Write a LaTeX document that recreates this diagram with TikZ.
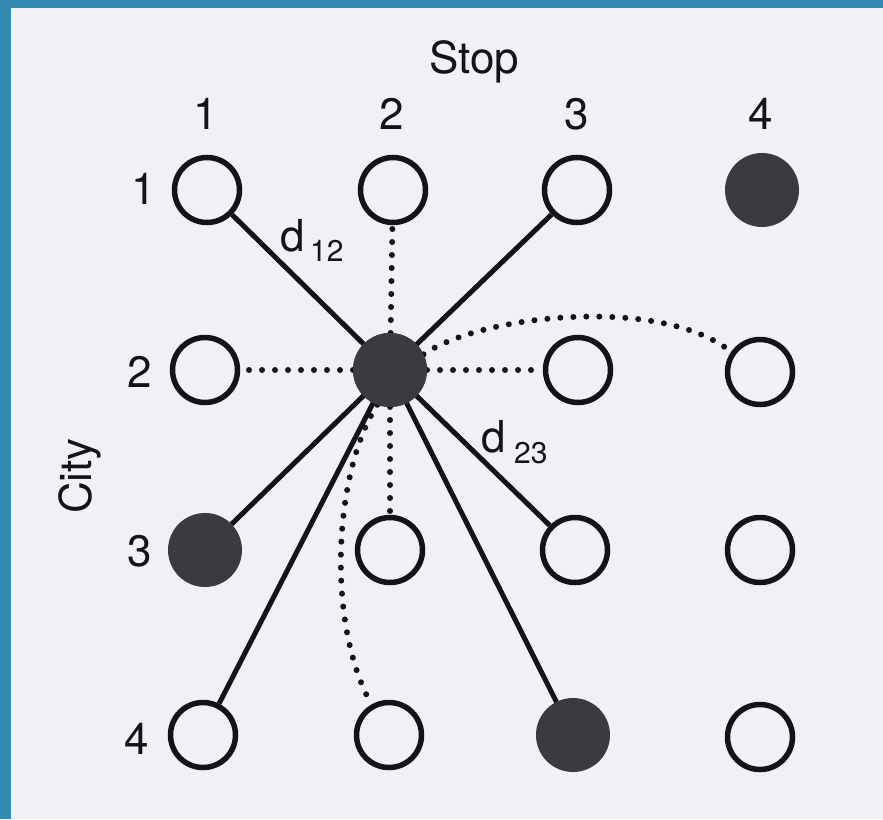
\documentclass[tikz,border=0pt]{standalone}
\usepackage{fontspec}
\setmainfont{TeX Gyre Heros}
\definecolor{frameblue}{RGB}{49,139,176}
\definecolor{paper}{RGB}{242,240,245}
\definecolor{ink}{RGB}{20,20,22}
\definecolor{fillink}{RGB}{58,58,64}
\begin{document}
\begin{tikzpicture}[x=1pt,y=-1pt,
  city/.style={circle,draw=ink,line width=5.5pt,minimum size=65pt,inner sep=0pt,fill=none},
  chosen/.style={circle,draw=fillink,fill=fillink,line width=2pt,minimum size=72pt,inner sep=0pt},
  solidlink/.style={draw=ink,line width=5pt},
  dotlink/.style={draw=ink,line width=6pt,line cap=round,dash pattern=on 0pt off 13pt},
  lbl/.style={font=\fontsize{44}{46}\selectfont,text=ink,inner sep=0pt},
  sub/.style={font=\fontsize{30}{32}\selectfont,text=ink,inner sep=0pt}
]
\useasboundingbox (0,0) rectangle (883,819);
\fill[frameblue] (0,0) rectangle (883,819);
\fill[paper] (11,8) rectangle (883,819);

% nodes
\node[city]   (n11) at (207,190) {};
\node[city]   (n12) at (393,190) {};
\node[city]   (n13) at (577,190) {};
\node[chosen] (n14) at (762,190) {};
\node[city]   (n21) at (205,370) {};
\node[chosen] (hub) at (390,370) {};
\node[city]   (n23) at (578,370) {};
\node[city]   (n24) at (760,372) {};
\node[chosen] (n31) at (205,550) {};
\node[city]   (n32) at (390,550) {};
\node[city]   (n33) at (575,550) {};
\node[city]   (n34) at (760,550) {};
\node[city]   (n41) at (203,735) {};
\node[city]   (n42) at (389,735) {};
\node[chosen] (n43) at (573,735) {};
\node[city]   (n44) at (760,737) {};

% links
\draw[solidlink] (hub) -- (n11);
\draw[solidlink] (hub) -- (n13);
\draw[solidlink] (hub) -- (n31);
\draw[solidlink] (hub) -- (n41);
\draw[solidlink] (hub) -- (n43);
\draw[solidlink] (hub) -- (n33);
\draw[dotlink] (hub) -- (n12);
\draw[dotlink] (hub) -- (n21);
\draw[dotlink] (hub) -- (n23);
\draw[dotlink] (hub) -- (n32);
\draw[dotlink] (hub.25) .. controls (480,315) and (660,295) .. (n24.145);
\draw[dotlink] (hub.250) .. controls (335,470) and (325,620) .. (n42.120);
\node[chosen] at (hub) {};

% labels
\node[lbl] (stop) at (474,62) {Stop};
\node[lbl] (c1) at (206,114) {1};
\node[lbl] (c2) at (392,114) {2};
\node[lbl] (c3) at (577,114) {3};
\node[lbl] (c4) at (761,114) {4};
\node[lbl] (r1) at (144,189) {1};
\node[lbl] (r2) at (140,372) {2};
\node[lbl] (r3) at (140,551) {3};
\node[lbl] (r4) at (137,739) {4};
\node[lbl,rotate=90] (city) at (80,476) {City};
\node[lbl,anchor=base west] (d12) at (280,251) {d};
\node[sub,anchor=base west] (s12) at (310,261) {12};
\node[lbl,anchor=base west] (d23) at (481,452) {d};
\node[sub,anchor=base west] (s23) at (514,463) {23};
\end{tikzpicture}
\end{document}
